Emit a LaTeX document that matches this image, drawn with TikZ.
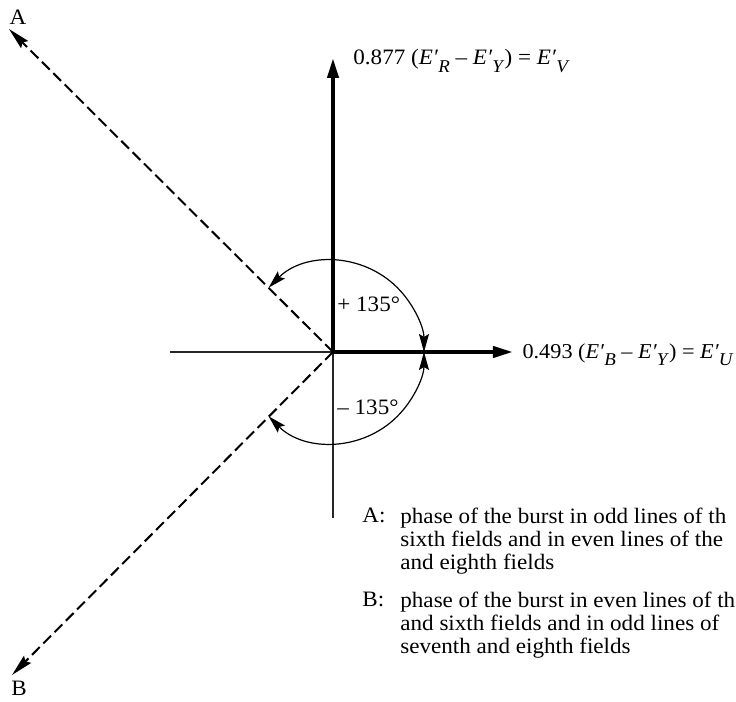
\documentclass[tikz,border=0pt]{standalone}
\usepackage{fontspec}
\setmainfont{Liberation Serif}[FakeStretch=1.05]
\usetikzlibrary{arrows.meta}

% primed signal with lowered subscript
\newcommand{\Eprime}[1]{\textit{E′}\raisebox{-0.33em}{\fontsize{9}{9}\selectfont\textit{#1}}}

\tikzset{
  axisline/.style={line width=2pt,-{Triangle[length=10pt,width=5.5pt]}},
  thinline/.style={line width=0.7pt,black!85},
  burstline/.style={line width=1pt,dash pattern=on 5.5pt off 2.5pt,-{Stealth[length=11pt,width=5pt,inset=1.5pt]}},
  anglearc/.style={line width=0.6pt,{Stealth[length=9pt,width=5pt,inset=1.5pt]}-{Stealth[length=9pt,width=5pt,inset=1.5pt]}},
  lbl/.style={inner sep=0pt,font=\fontsize{11}{11.5}\selectfont}
}

\begin{document}
\begin{tikzpicture}[x=0.5pt,y=0.5pt]
\useasboundingbox (-333,-350) rectangle (403,352);

% Points
\coordinate (O) at (0,0);
\coordinate (U) at (180,0);
\coordinate (V) at (0,294);
\coordinate (W) at (-163,0);
\coordinate (S) at (0,-166);
\coordinate (A) at (-324,323);
\coordinate (B) at (-321,-323);

% Reference lines
\draw[thinline] (W) -- (O);
\draw[thinline] (O) -- (S);

% Burst phases
\draw[burstline] (O) -- (A);
\draw[burstline] (O) -- (B);
\node[lbl] (labA) at (-315,335) {A};
\node[lbl] (labB) at (-314,-336) {B};

% Colour difference axes
\draw[axisline] (O) -- (V);
\draw[axisline] (O) -- (U);
\node[lbl,anchor=base west] (labV) at (20,287) {0.877 (\Eprime{R} – \Eprime{Y}) = \Eprime{V}};
\node[lbl,anchor=base east,font=\fontsize{10.6}{11.5}\selectfont] (labU) at (401,-7) {0.493 (\Eprime{B} – \Eprime{Y}) = \Eprime{U}};

% Angles
\draw[anglearc] (135:91) arc[start angle=135,end angle=0,radius=91];
\draw[anglearc] (-135:91) arc[start angle=-135,end angle=0,radius=91];
\node[lbl,anchor=base west] (plus) at (4,40) {+ 135°};
\node[lbl,anchor=base west] (minus) at (4,-63) {– 135°};

% Legend
\node[lbl,anchor=base west] (keyA) at (29,-171) {A:};
\node[lbl,anchor=north west,align=left] (txtA) at (67,-156)
  {phase of the burst in odd lines of th\\sixth fields and in even lines of the\\and eighth fields};
\node[lbl,anchor=base west] (keyB) at (29,-255) {B:};
\node[lbl,anchor=north west,align=left] (txtB) at (67,-240)
  {phase of the burst in even lines of th\\and sixth fields and in odd lines of\\seventh and eighth fields};

\end{tikzpicture}
\end{document}
